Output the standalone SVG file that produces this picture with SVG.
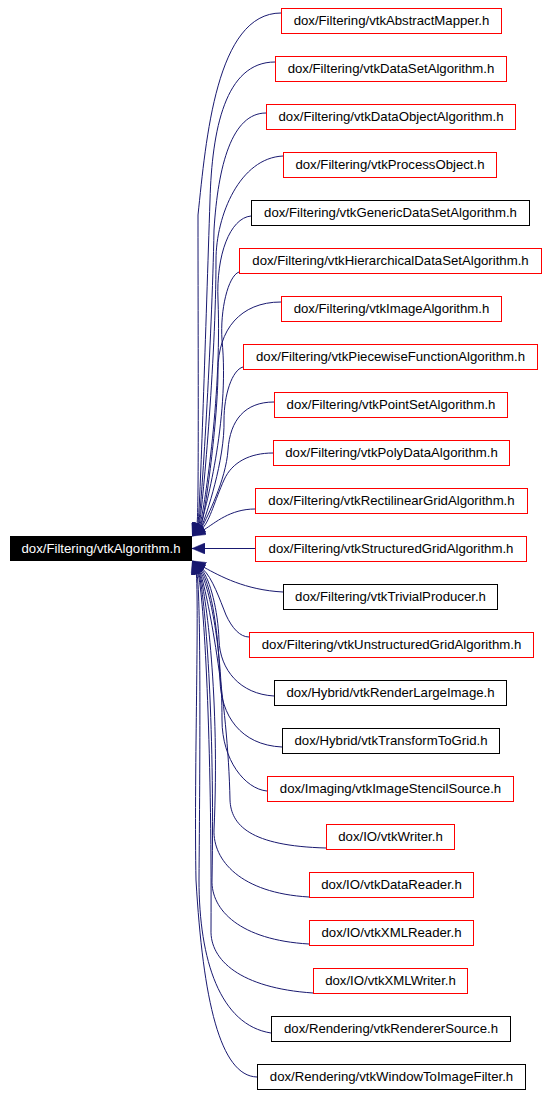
<svg xmlns="http://www.w3.org/2000/svg" width="548" height="1095" viewBox="0 0 548 1095">
<style>
.node rect{fill:#ffffff;stroke:#ff0000;stroke-width:1}
.node.blk rect{stroke:#000000}
.node text{font-family:"Liberation Sans",Arial,sans-serif;font-size:13.2px;fill:#000000;text-anchor:middle}
#n_main rect{fill:#000000;stroke:#000000}
#n_main text{fill:#ffffff}
.edges path{fill:none;stroke:#191970;stroke-width:1;marker-start:url(#ah)}
</style>
<defs>
<marker id="ah" viewBox="0 0 13 11" refX="13" refY="5.5" markerUnits="userSpaceOnUse" markerWidth="13" markerHeight="11" orient="auto-start-reverse">
<path d="M0,0 L13,5.5 L0,11 z" fill="#191970" stroke="#191970" stroke-width="0.5"/>
</marker>
</defs>
<rect x="0" y="0" width="548" height="1095" fill="#ffffff"/>
<g class="edges" id="edges">
<path d="M192.5,536 L197,523.6 C199,515 198,330 198,215 C206,140 216,13 281,13"/>
<path d="M192.5,536 L197.9,523.9 C200,515 206,320 210,200 C212,130 225,62 275,62"/>
<path d="M192.5,536 L198.5,524.2 C201,515 212,340 214,230 C218,165 232,113 266,113"/>
<path d="M192.5,536 L199.1,524.5 C202,515 216,360 216,260 C216,215 240,158 283,156"/>
<path d="M192.5,536 L199.9,525 C203,515 222,400 218,300 C216,255 230,218 251,216"/>
<path d="M192.5,536 L200.5,525.4 C204,515 230,420 222,340 C220,310 228,276 239,272"/>
<path d="M192.5,536 L201,525.8 C205,515 218,420 218,370 C218,330 240,302 281,302"/>
<path d="M192.5,536 L201.7,526.3 C206,516 225,460 224,420 C224,395 232,370 243,367"/>
<path d="M192.5,536 L202.2,526.8 C207,517 226,480 228,450 C230,420 245,402 274,402"/>
<path d="M192.5,536 L203,527.6 C210,520 215,500 224,480 C232,462 250,453 273,453"/>
<path d="M192.5,536 L204.3,529.5 C215,523 230,509 255,509"/>
<path d="M192,548.5 L255,548.5"/>
<path d="M192.5,561 L204.3,567.5 C220,576 245,590 283,592"/>
<path d="M192.5,561 L203,569.4 C212,577 220,600 226,615 C232,628 240,637 249,637"/>
<path d="M192.5,561 L202.2,570.2 C210,580 218,610 219,640 C220,670 240,694 274,696"/>
<path d="M192.5,561 L201.4,571 C209,582 218,620 220,680 C221,715 240,745 282,747"/>
<path d="M192.5,561 L200.5,571.6 C208,585 222,640 222,720 C222,760 245,789 267,791"/>
<path d="M192.5,561 L199.9,572 C207,590 228,700 230,800 C231,825 250,846 326,848"/>
<path d="M192.5,561 L199.1,572.5 C206,590 220,700 214,830 C213,860 240,893 309,897"/>
<path d="M192.5,561 L198.5,572.8 C205,592 215,720 212,880 C211,910 240,940 309,944"/>
<path d="M192.5,561 L197.9,573.1 C204,595 212,740 211,930 C210,960 240,988 313,993"/>
<path d="M192.5,561 L197,573.4 C201,600 200,760 199,880 C199,960 220,1025 271,1033"/>
<path d="M192.5,561 L196.4,573.6 C199,620 194,780 196,880 C203,1000 220,1076 257,1077"/>
</g>
<g class="node" id="n_main"><rect x="10.5" y="536.5" width="181" height="24"/><text x="101" y="553.3">dox/Filtering/vtkAlgorithm.h</text></g>
<g class="node" id="n0"><rect x="281.5" y="8.5" width="220" height="25"/><text x="391.5" y="25.3">dox/Filtering/vtkAbstractMapper.h</text></g>
<g class="node" id="n1"><rect x="275.5" y="56.5" width="231" height="25"/><text x="391" y="73.3">dox/Filtering/vtkDataSetAlgorithm.h</text></g>
<g class="node" id="n2"><rect x="266.5" y="104.5" width="249" height="25"/><text x="391" y="121.3">dox/Filtering/vtkDataObjectAlgorithm.h</text></g>
<g class="node" id="n3"><rect x="283.5" y="152.5" width="213" height="25"/><text x="390" y="169.3">dox/Filtering/vtkProcessObject.h</text></g>
<g class="node blk" id="n4"><rect x="251.5" y="200.5" width="278" height="25"/><text x="390.5" y="217.3">dox/Filtering/vtkGenericDataSetAlgorithm.h</text></g>
<g class="node" id="n5"><rect x="239.5" y="248.5" width="302" height="25"/><text x="390.5" y="265.3">dox/Filtering/vtkHierarchicalDataSetAlgorithm.h</text></g>
<g class="node" id="n6"><rect x="281.5" y="296.5" width="220" height="25"/><text x="391.5" y="313.3">dox/Filtering/vtkImageAlgorithm.h</text></g>
<g class="node" id="n7"><rect x="243.5" y="344.5" width="294" height="25"/><text x="390.5" y="361.3">dox/Filtering/vtkPiecewiseFunctionAlgorithm.h</text></g>
<g class="node" id="n8"><rect x="274.5" y="392.5" width="233" height="25"/><text x="391" y="409.3">dox/Filtering/vtkPointSetAlgorithm.h</text></g>
<g class="node" id="n9"><rect x="273.5" y="440.5" width="236" height="25"/><text x="391.5" y="457.3">dox/Filtering/vtkPolyDataAlgorithm.h</text></g>
<g class="node" id="n10"><rect x="255.5" y="488.5" width="272" height="25"/><text x="391.5" y="505.3">dox/Filtering/vtkRectilinearGridAlgorithm.h</text></g>
<g class="node" id="n11"><rect x="255.5" y="536.5" width="271" height="25"/><text x="391" y="553.3">dox/Filtering/vtkStructuredGridAlgorithm.h</text></g>
<g class="node blk" id="n12"><rect x="283.5" y="584.5" width="214" height="25"/><text x="390.5" y="601.3">dox/Filtering/vtkTrivialProducer.h</text></g>
<g class="node" id="n13"><rect x="249.5" y="632.5" width="284" height="25"/><text x="391.5" y="649.3">dox/Filtering/vtkUnstructuredGridAlgorithm.h</text></g>
<g class="node blk" id="n14"><rect x="274.5" y="680.5" width="232" height="25"/><text x="390.5" y="697.3">dox/Hybrid/vtkRenderLargeImage.h</text></g>
<g class="node blk" id="n15"><rect x="282.5" y="728.5" width="217" height="25"/><text x="391" y="745.3">dox/Hybrid/vtkTransformToGrid.h</text></g>
<g class="node" id="n16"><rect x="267.5" y="776.5" width="246" height="25"/><text x="390.5" y="793.3">dox/Imaging/vtkImageStencilSource.h</text></g>
<g class="node" id="n17"><rect x="326.5" y="824.5" width="128" height="25"/><text x="390.5" y="841.3">dox/IO/vtkWriter.h</text></g>
<g class="node" id="n18"><rect x="309.5" y="872.5" width="164" height="25"/><text x="391.5" y="889.3">dox/IO/vtkDataReader.h</text></g>
<g class="node" id="n19"><rect x="309.5" y="920.5" width="164" height="25"/><text x="391.5" y="937.3">dox/IO/vtkXMLReader.h</text></g>
<g class="node" id="n20"><rect x="313.5" y="968.5" width="154" height="25"/><text x="390.5" y="985.3">dox/IO/vtkXMLWriter.h</text></g>
<g class="node blk" id="n21"><rect x="271.5" y="1016.5" width="239" height="25"/><text x="391" y="1033.3">dox/Rendering/vtkRendererSource.h</text></g>
<g class="node blk" id="n22"><rect x="257.5" y="1064.5" width="268" height="25"/><text x="391.5" y="1081.3">dox/Rendering/vtkWindowToImageFilter.h</text></g>
</svg>
